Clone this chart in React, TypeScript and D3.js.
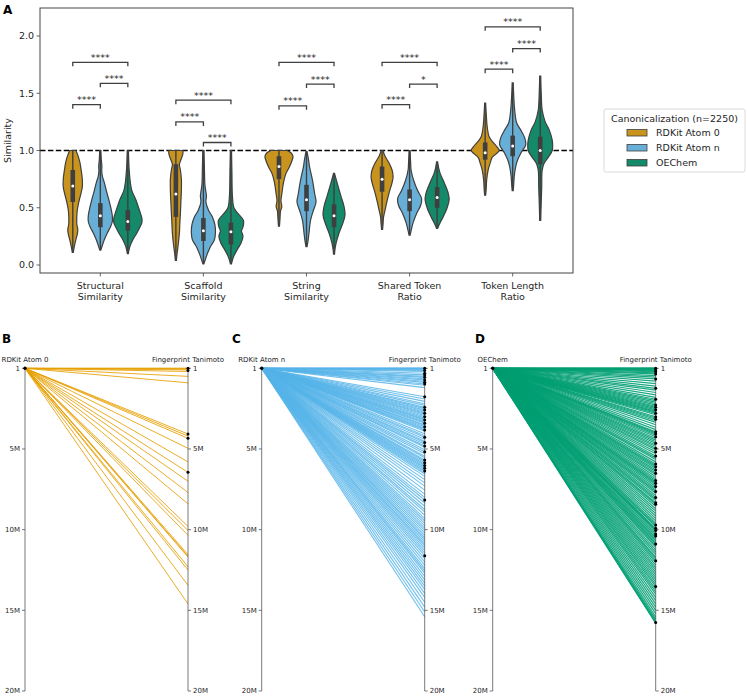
import React from "react";
import * as d3 from "d3";

// ---------- Panel A data ----------
const categoryLabels: string[][] = [
  ["Structural", "Similarity"],
  ["Scaffold", "Similarity"],
  ["String", "Similarity"],
  ["Shared Token", "Ratio"],
  ["Token Length", "Ratio"],
];
const methods = ["RDKit Atom 0", "RDKit Atom n", "OEChem"];
const yTicks = [0, 0.5, 1.0, 1.5, 2.0];

// violin profiles: [value, relative density] from top to bottom
const violinAtom0: number[][][] = [
  [[1.0, 3], [0.96, 5], [0.9, 7], [0.82, 8.5], [0.75, 9.5], [0.68, 9.5], [0.62, 8], [0.55, 6], [0.48, 4.5], [0.42, 4], [0.36, 4], [0.31, 5], [0.27, 4.5], [0.22, 3], [0.16, 1.5], [0.11, 0.5]],
  [[1.0, 7], [0.97, 7], [0.93, 5.5], [0.88, 3.5], [0.83, 4.5], [0.75, 5.5], [0.65, 5.5], [0.55, 5], [0.45, 4.5], [0.37, 4], [0.28, 3.5], [0.19, 2.5], [0.1, 1.2], [0.04, 0.5]],
  [[1.0, 8], [0.98, 12], [0.95, 14], [0.9, 12.5], [0.85, 10], [0.8, 7], [0.72, 4.5], [0.63, 3], [0.56, 2], [0.51, 2.8], [0.47, 1.5], [0.4, 1], [0.34, 0.5]],
  [[1.0, 0.8], [0.95, 3], [0.89, 7], [0.83, 10], [0.77, 11], [0.72, 10], [0.63, 7], [0.54, 4.5], [0.48, 3], [0.42, 1.5], [0.36, 1], [0.31, 0.5]],
  [[1.415, 0.5], [1.3, 1.2], [1.21, 2], [1.12, 4], [1.07, 8], [1.03, 12], [1.0, 14], [0.97, 11], [0.94, 7], [0.89, 5], [0.83, 3], [0.74, 1.5], [0.66, 1], [0.61, 0.5]],
];
const violinAtomN: number[][][] = [
  [[1.0, 0.6], [0.92, 1], [0.86, 1.6], [0.82, 1.4], [0.77, 2.2], [0.72, 4], [0.65, 6], [0.57, 8.5], [0.5, 10.5], [0.43, 12], [0.38, 12], [0.33, 10], [0.28, 7], [0.22, 4], [0.17, 2], [0.13, 0.5]],
  [[1.0, 0.6], [0.85, 1], [0.7, 1.5], [0.64, 2.5], [0.6, 3], [0.55, 2.5], [0.48, 5], [0.42, 9], [0.35, 11.5], [0.28, 12], [0.22, 11], [0.16, 7], [0.1, 4], [0.05, 2], [0.01, 0.5]],
  [[0.99, 0.5], [0.92, 2], [0.86, 3], [0.74, 6], [0.63, 8], [0.55, 9.5], [0.48, 7], [0.39, 4], [0.28, 2.5], [0.21, 1.5], [0.16, 0.5]],
  [[1.0, 0.5], [0.9, 1], [0.83, 1.5], [0.74, 4], [0.65, 8], [0.58, 12], [0.52, 11], [0.45, 7], [0.37, 3.5], [0.3, 1.5], [0.26, 0.5]],
  [[1.59, 0.5], [1.45, 1.2], [1.35, 2], [1.24, 4], [1.18, 8], [1.11, 12], [1.05, 13], [0.99, 9], [0.92, 5], [0.86, 3], [0.77, 1.5], [0.7, 1], [0.65, 0.5]],
];
const violinOEChem: number[][][] = [
  [[1.0, 0.6], [0.85, 1.2], [0.78, 1.8], [0.72, 2.5], [0.65, 4], [0.57, 8], [0.48, 11.5], [0.41, 14], [0.37, 14], [0.33, 12], [0.28, 9], [0.22, 5], [0.16, 2], [0.1, 0.5]],
  [[1.0, 0.6], [0.8, 1], [0.6, 1.5], [0.5, 3], [0.45, 7], [0.39, 12.5], [0.33, 12], [0.3, 10.5], [0.25, 12], [0.19, 10], [0.13, 6], [0.07, 2.5], [0.01, 0.5]],
  [[0.8, 0.5], [0.72, 3], [0.6, 7], [0.51, 10], [0.44, 11], [0.37, 9], [0.28, 5], [0.19, 2], [0.14, 1], [0.095, 0.5]],
  [[0.9, 0.5], [0.85, 1.5], [0.8, 3], [0.72, 7], [0.63, 11], [0.57, 12], [0.5, 10], [0.42, 6], [0.37, 3], [0.34, 1.5], [0.32, 0.5]],
  [[1.65, 0.5], [1.5, 1], [1.35, 2], [1.25, 5], [1.18, 9], [1.09, 12], [1.0, 12], [0.94, 8], [0.89, 4], [0.83, 2], [0.68, 1.5], [0.55, 1], [0.39, 0.5]],
];
// box stats: [min, q1, median, q3, max]
const boxAtom0 = [[0.11, 0.55, 0.69, 0.83, 1.0], [0.04, 0.42, 0.62, 0.88, 1.0], [0.34, 0.75, 0.86, 0.95, 1.0], [0.31, 0.64, 0.75, 0.86, 1.0], [0.61, 0.92, 0.98, 1.07, 1.415]];
const boxAtomN = [[0.13, 0.33, 0.43, 0.54, 1.0], [0.01, 0.21, 0.3, 0.41, 1.0], [0.16, 0.47, 0.57, 0.7, 0.99], [0.26, 0.47, 0.57, 0.66, 1.0], [0.65, 0.95, 1.04, 1.13, 1.59]];
const boxOEChem = [[0.1, 0.3, 0.38, 0.48, 1.0], [0.01, 0.18, 0.29, 0.37, 1.0], [0.095, 0.33, 0.43, 0.53, 0.8], [0.32, 0.5, 0.59, 0.68, 0.9], [0.39, 0.88, 1.0, 1.12, 1.65]];

// significance brackets per category: pairs (0-1), (1-2), (0-2)
const bracketPairs = [[0, 1], [1, 2], [0, 2]];
const bracketLevels = [[1.4, 1.587, 1.77], [1.25, 1.07, 1.44], [1.39, 1.58, 1.77], [1.4, 1.58, 1.77], [1.71, 1.89, 2.08]];
const bracketLabels = [["****", "****", "****"], ["****", "****", "****"], ["****", "****", "****"], ["****", "*", "****"], ["****", "****", "****"]];

// ---------- Panels B-D data (rank of Fingerprint Tanimoto, millions) ----------
const rankTicks = [1, 5e6, 10e6, 15e6, 20e6];
const rankTickLabels = ["1", "5M", "10M", "15M", "20M"];
const rankAtom0 = [0, 0, 0.05, 0.1, 0.2, 0.5, 0.9, 4.07, 4.2, 4.34, 4.96, 5.8, 6.45, 7.0, 7.7, 8.4, 9.8, 10.05, 10.35, 11.55, 11.65, 11.7, 12.3, 12.5, 13.45, 14.6];
const dotsAtom0 = [0, 0.14, 4.07, 4.34, 6.45];
const rankAtomN = [0, 0, 0, 0, 0.05, 0.1, 0.14, 0.2, 0.31, 0.41, 0.5, 0.56, 0.65, 0.72, 0.8, 0.87, 0.97, 1.05, 1.2, 1.76, 1.9, 2.05, 2.2, 2.3, 2.42, 2.5, 2.58, 2.65, 2.72, 2.79, 2.85, 2.92, 3.0, 3.08, 3.15, 3.2, 3.28, 3.35, 3.41, 3.5, 3.55, 3.62, 3.7, 3.76, 3.82, 3.9, 4.05, 4.18, 4.28, 4.4, 4.52, 4.6, 4.7, 4.81, 4.9, 5.05, 5.17, 5.3, 5.45, 5.55, 5.68, 5.76, 5.85, 5.95, 6.03, 6.12, 6.2, 6.28, 6.36, 6.45, 6.55, 6.7, 6.9, 7.1, 7.3, 7.55, 7.8, 8.0, 8.16, 8.35, 8.55, 8.75, 8.9, 9.1, 9.3, 9.45, 9.6, 9.75, 9.9, 10.05, 10.2, 10.35, 10.5, 10.6, 10.75, 10.9, 11.0, 11.15, 11.3, 11.45, 11.61, 11.8, 12.0, 12.2, 12.4, 12.55, 12.7, 12.9, 13.1, 13.3, 13.5, 13.7, 13.95, 14.2, 14.5, 14.8, 15.1, 15.4];
const dotsAtomN = [0, 0.14, 0.31, 0.41, 0.56, 0.72, 0.87, 0.97, 1.76, 2.42, 2.58, 2.79, 3.0, 3.2, 3.41, 3.62, 3.82, 4.28, 4.6, 4.81, 5.17, 5.68, 5.85, 6.03, 6.2, 6.36, 8.16, 11.61];
const rankOEChem = [0, 0, 0, 0, 0, 0.03, 0.06, 0.1, 0.14, 0.21, 0.28, 0.35, 0.45, 0.55, 0.66, 0.8, 0.95, 1.1, 1.24, 1.35, 1.5, 1.65, 1.8, 1.92, 2.0, 2.1, 2.18, 2.27, 2.35, 2.42, 2.5, 2.58, 2.65, 2.72, 2.79, 2.88, 3.0, 3.08, 3.16, 3.25, 3.35, 3.5, 3.65, 3.8, 3.93, 4.0, 4.07, 4.15, 4.24, 4.35, 4.45, 4.55, 4.65, 4.75, 4.85, 4.96, 5.05, 5.17, 5.3, 5.44, 5.55, 5.65, 5.8, 5.93, 6.02, 6.1, 6.2, 6.3, 6.4, 6.51, 6.6, 6.72, 6.85, 6.96, 7.05, 7.13, 7.22, 7.33, 7.45, 7.55, 7.64, 7.75, 7.88, 8.0, 8.1, 8.2, 8.33, 8.43, 8.55, 8.7, 8.85, 9.0, 9.15, 9.3, 9.45, 9.6, 9.71, 9.8, 9.92, 10.0, 10.06, 10.15, 10.27, 10.39, 10.5, 10.6, 10.7, 10.8, 10.89, 11.0, 11.1, 11.25, 11.4, 11.55, 11.7, 11.8, 11.92, 12.05, 12.2, 12.35, 12.5, 12.65, 12.8, 12.95, 13.1, 13.25, 13.4, 13.53, 13.7, 13.85, 14.0, 14.2, 14.4, 14.6, 14.8, 15.0, 15.2, 15.4, 15.55, 15.65, 15.76, 15.8];
const dotsOEChem = [0, 0.1, 0.21, 0.35, 0.66, 1.24, 1.92, 2.27, 2.42, 2.58, 2.79, 3.0, 3.16, 3.93, 4.07, 4.24, 4.65, 4.96, 5.17, 5.44, 5.93, 6.1, 6.3, 6.51, 6.96, 7.13, 7.33, 7.64, 8.0, 8.33, 8.43, 9.71, 9.92, 10.06, 10.27, 10.39, 10.89, 11.92, 13.53, 15.76];

const FONT = "DejaVu Sans, sans-serif";
const violinFill = ["#c9941d", "#68afd7", "#148a6a"];
const lineColor = ["#E69F00", "#56B4E9", "#009E73"];
const EDGE = "#3f3f3f";
const TXT = "#262626";

export default function App() {
  const x = d3.scaleLinear().domain([-0.585, 4.585]).range([40, 573]);
  const y = d3.scaleLinear().domain([0, 2]).range([265, 36]);
  const dodge = 0.267;
  const wScale = d3.scaleLinear().domain([0, 14]).range([0, x(0.136) - x(0)]);
  const violins = [violinAtom0, violinAtomN, violinOEChem];
  const boxes = [boxAtom0, boxAtomN, boxOEChem];
  const plotL = 40, plotR = 573, plotT = 8, plotB = 273;

  const panelA: React.ReactNode[] = [];
  categoryLabels.forEach((_, ci) => {
    for (let m = 0; m < 3; m++) {
      const cx = x(ci + (m - 1) * dodge);
      const prof = violins[m][ci] as [number, number][];
      const area = d3
        .area<[number, number]>()
        .curve(d3.curveCatmullRom.alpha(0.5))
        .y((d) => y(d[0]))
        .x0((d) => cx - wScale(d[1]))
        .x1((d) => cx + wScale(d[1]));
      const b = boxes[m][ci];
      panelA.push(
        <g key={`v${ci}-${m}`}>
          <path d={area(prof) || ""} fill={violinFill[m]} stroke={EDGE} strokeWidth={1.2} />
          <line x1={cx} x2={cx} y1={y(b[0])} y2={y(b[4])} stroke={EDGE} strokeWidth={1.4} />
          <rect x={cx - 2.3} width={4.6} y={y(b[3])} height={y(b[1]) - y(b[3])} fill={EDGE} />
          <circle cx={cx} cy={y(b[2])} r={1.5} fill="white" />
        </g>
      );
    }
    bracketPairs.forEach((pr, bi) => {
      const x1 = x(ci + (pr[0] - 1) * dodge);
      const x2 = x(ci + (pr[1] - 1) * dodge);
      const h = bracketLevels[ci][bi];
      const yy = y(h);
      const yd = y(h - 0.035);
      panelA.push(
        <g key={`b${ci}-${bi}`}>
          <path d={`M${x1},${yd}V${yy}H${x2}V${yd}`} fill="none" stroke={EDGE} strokeWidth={1.3} />
          <text x={(x1 + x2) / 2} y={yy - 1.5} textAnchor="middle" fontSize={9.5} fill={TXT}>
            {bracketLabels[ci][bi]}
          </text>
        </g>
      );
    });
  });

  // Bottom panels
  const yR = d3.scaleLinear().domain([0, 20e6]).range([368.3, 691]);
  const panelLeft = [25, 261.7, 492.7];
  const axisGap = 163;
  const ranks = [rankAtom0, rankAtomN, rankOEChem];
  const dots = [dotsAtom0, dotsAtomN, dotsOEChem];
  const letters = ["B", "C", "D"];
  const letterX = [2, 232, 475];
  const lineW = [1.0, 1.1, 1.2];
  const lineOp = [0.85, 0.85, 0.9];

  return (
    <svg width={747} height={696} style={{ position: "absolute", left: 0, top: 0, fontFamily: FONT }}>
      <rect width={747} height={696} fill="white" />
      {/* Panel A */}
      <text x={3} y={13.5} fontSize={12} fontWeight="bold" fill="#000">A</text>
      <line x1={plotL} x2={plotR} y1={y(1)} y2={y(1)} stroke="#000" strokeWidth={1.5} strokeDasharray="5.5,2.4" />
      {panelA}
      <rect x={plotL} y={plotT} width={plotR - plotL} height={plotB - plotT} fill="none" stroke="#444" strokeWidth={1} />
      {yTicks.map((t) => (
        <g key={`yt${t}`}>
          <line x1={plotL - 3.5} x2={plotL} y1={y(t)} y2={y(t)} stroke="#444" strokeWidth={0.8} />
          <text x={plotL - 6} y={y(t)} dy="0.35em" textAnchor="end" fontSize={9.5} fill={TXT}>
            {t.toFixed(1)}
          </text>
        </g>
      ))}
      <text transform={`translate(11,${(plotT + plotB) / 2}) rotate(-90)`} textAnchor="middle" fontSize={9.5} fill={TXT}>
        Similarity
      </text>
      {categoryLabels.map((lab, i) => (
        <g key={`xt${i}`}>
          <line x1={x(i)} x2={x(i)} y1={plotB} y2={plotB + 3.5} stroke="#444" strokeWidth={0.8} />
          {lab.map((l, k) => (
            <text key={k} x={x(i)} y={plotB + 15.5 + k * 11.3} textAnchor="middle" fontSize={9.5} fill={TXT}>
              {l}
            </text>
          ))}
        </g>
      ))}
      {/* Legend */}
      <g>
        <rect x={604} y={109} width={141} height={63} rx={2} fill="white" stroke="#d0d0d0" strokeWidth={0.8} />
        <text x={674.5} y={121.5} textAnchor="middle" fontSize={9.5} fill={TXT}>Canonicalization (n=2250)</text>
        {methods.map((mname, i) => (
          <g key={mname}>
            <rect x={627} y={129.5 + i * 15} width={20} height={6.5} fill={violinFill[i]} stroke={EDGE} strokeWidth={0.8} />
            <text x={656} y={136 + i * 15} fontSize={9.5} fill={TXT}>{mname}</text>
          </g>
        ))}
      </g>

      {/* Panels B-D */}
      {[0, 1, 2].map((p) => {
        const lx = panelLeft[p];
        const rx = lx + axisGap;
        const y0 = yR(1);
        return (
          <g key={`p${p}`}>
            <text x={letterX[p]} y={343} fontSize={12} fontWeight="bold" fill="#000">{letters[p]}</text>
            <text x={lx} y={362} textAnchor="middle" fontSize={7} fill={TXT}>{methods[p]}</text>
            <text x={rx} y={362} textAnchor="middle" fontSize={7} fill={TXT}>Fingerprint Tanimoto</text>
            {ranks[p].map((v, i) => (
              <line key={i} x1={lx} y1={y0} x2={rx} y2={yR(Math.max(1, v * 1e6))} stroke={lineColor[p]} strokeWidth={lineW[p]} strokeOpacity={lineOp[p]} />
            ))}
            <line x1={lx} x2={lx} y1={yR(1)} y2={yR(20e6)} stroke="#555" strokeWidth={0.8} />
            <line x1={rx} x2={rx} y1={yR(1)} y2={yR(20e6)} stroke="#555" strokeWidth={0.8} />
            {rankTicks.map((t, i) => (
              <g key={`rt${i}`}>
                <line x1={lx - 3} x2={lx} y1={yR(t)} y2={yR(t)} stroke="#555" strokeWidth={0.8} />
                <text x={lx - 5} y={yR(t)} dy="0.35em" textAnchor="end" fontSize={7} fill={TXT}>{rankTickLabels[i]}</text>
                <line x1={rx} x2={rx + 3} y1={yR(t)} y2={yR(t)} stroke="#555" strokeWidth={0.8} />
                <text x={rx + 5} y={yR(t)} dy="0.35em" textAnchor="start" fontSize={7} fill={TXT}>{rankTickLabels[i]}</text>
              </g>
            ))}
            <circle cx={lx} cy={y0} r={1.7} fill="#000" />
            {dots[p].map((v, i) => (
              <circle key={`d${i}`} cx={rx} cy={yR(Math.max(1, v * 1e6))} r={1.5} fill="#000" />
            ))}
          </g>
        );
      })}
    </svg>
  );
}
